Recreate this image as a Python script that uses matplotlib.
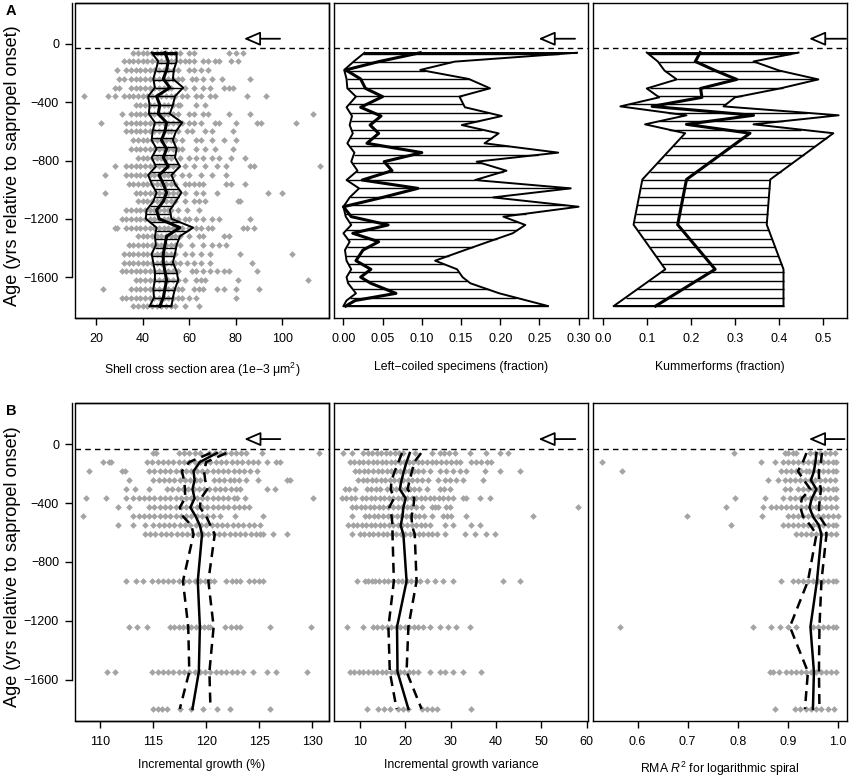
import numpy as np
import matplotlib.pyplot as plt
from matplotlib.patches import Rectangle

plt.rcParams['font.family'] = ['Liberation Sans', 'DejaVu Sans']
plt.rcParams['mathtext.fontset'] = 'custom'
plt.rcParams['mathtext.rm'] = 'Liberation Sans'
plt.rcParams['mathtext.it'] = 'Liberation Sans:italic'

# ---------------- datos: fila A ----------------
edades_A = [-60, -120, -180, -240, -300, -360, -420, -480, -540, -600,
            -660, -720, -780, -840, -900, -960, -1020, -1080, -1140, -1200,
            -1260, -1320, -1380, -1440, -1500, -1560, -1620, -1680, -1740, -1800]

# área de la concha, un individuo por punto
area_pts = [
    [36, 38, 40, 42, 44, 46, 48, 50, 52, 54, 56, 60, 62, 77, 80, 83],
    [32, 34, 36, 38, 40, 42, 44, 46, 48, 50, 52, 54, 56, 58, 60, 62, 66, 68, 71, 73, 78, 81],
    [29, 33, 35, 37, 39, 41, 43, 45, 47, 49, 51, 53, 55, 60, 62, 65, 68],
    [30, 32, 35, 37, 39, 41, 43, 45, 47, 49, 51, 53, 55, 57, 61, 63, 66, 70, 74, 86],
    [28, 30, 35, 37, 39, 41, 43, 45, 47, 49, 51, 52, 58, 62, 66, 69, 75, 77, 79],
    [15, 25, 28, 32, 34, 36, 38, 40, 42, 44, 46, 48, 50, 52, 54, 57, 59, 63, 65, 69, 71, 85, 93],
    [37, 39, 41, 43, 45, 47, 49, 51, 53, 55, 56, 63, 67],
    [31, 35, 37, 39, 41, 43, 45, 47, 49, 51, 53, 55, 60, 62, 66, 68, 77, 86, 113],
    [22, 33, 35, 37, 39, 41, 43, 45, 47, 49, 51, 53, 55, 57, 60, 62, 65, 71, 73, 80, 89, 91, 106],
    [33, 35, 37, 39, 41, 43, 45, 47, 49, 51, 52, 55, 59, 61, 67, 70, 79],
    [36, 38, 40, 42, 44, 46, 48, 50, 52, 54, 57, 63, 65, 70, 75, 80],
    [35, 37, 39, 41, 43, 45, 47, 49, 51, 53, 55, 57, 63, 67, 71, 79],
    [38, 40, 42, 44, 46, 48, 50, 52, 56, 60, 63, 66, 70, 73, 78, 84],
    [28, 33, 35, 37, 39, 41, 43, 45, 47, 49, 51, 53, 55, 58, 62, 67, 72, 76, 86, 88, 116],
    [24, 33, 35, 37, 39, 41, 43, 45, 47, 49, 51, 53, 57, 60, 65, 70, 76],
    [34, 36, 38, 40, 42, 44, 46, 48, 50, 52, 54, 58, 60, 62, 64, 66, 76, 78, 84],
    [24, 37, 39, 41, 43, 45, 47, 49, 51, 53, 55, 58, 63, 66, 72, 94, 100],
    [38, 40, 42, 44, 46, 48, 50, 52, 54, 58, 62, 64, 67, 81, 82],
    [33, 35, 37, 39, 41, 43, 45, 47, 49, 51, 52, 55, 59, 64],
    [31, 33, 35, 37, 39, 41, 43, 45, 47, 49, 51, 53, 55, 58, 60, 63, 66, 70, 73, 86],
    [28, 29, 33, 35, 37, 39, 41, 43, 45, 47, 49, 51, 53, 55, 57, 60, 63, 65, 68, 70, 83, 85, 88],
    [38, 40, 42, 44, 46, 48, 50, 52, 54, 56, 60, 64, 66, 75, 77],
    [34, 36, 38, 40, 42, 44, 46, 48, 50, 52, 54, 56, 61, 66, 70, 73, 76],
    [32, 34, 36, 38, 40, 42, 44, 46, 48, 50, 52, 54, 58, 61, 65, 69, 82, 104],
    [32, 34, 36, 38, 40, 42, 44, 46, 48, 50, 52, 54, 56, 59, 62, 65, 69, 87],
    [31, 33, 35, 37, 39, 41, 43, 45, 47, 49, 51, 53, 55, 61, 63, 66, 69, 72, 75, 77, 89],
    [37, 39, 41, 43, 45, 47, 49, 51, 53, 55, 58, 63, 65, 67, 81, 111],
    [23, 35, 37, 39, 41, 43, 45, 47, 49, 51, 53, 55, 57, 62, 64, 66, 72, 75, 80, 90],
    [31, 33, 35, 37, 39, 41, 43, 45, 47, 49, 51, 53, 55, 57, 60, 63, 80],
    [36, 38, 40, 42, 44, 46, 48, 50, 52, 54, 58, 64],
]
area_inf = [43.9, 46.7, 45.7, 44.6, 45.3, 42.4, 43.0, 42.7, 45.3, 44.3, 43.9, 46.0, 43.9, 45.7, 42.4,
            43.9, 46.0, 44.6, 41.7, 41.4, 46.0, 45.3, 45.7, 43.9, 44.6, 45.3, 45.3, 44.6, 44.9, 43.0]
area_med = [49.6, 51.0, 50.3, 48.9, 51.7, 46.0, 47.4, 46.7, 50.3, 49.6, 48.1, 50.3, 48.9, 51.0, 47.1,
            48.9, 50.3, 48.9, 46.0, 47.1, 56.0, 50.3, 49.6, 48.9, 48.9, 49.6, 50.3, 49.6, 48.9, 47.4]
area_sup = [54.6, 54.6, 53.4, 53.0, 57.4, 53.9, 53.0, 51.7, 57.0, 54.3, 53.0, 54.6, 53.9, 56.0, 52.4,
            53.9, 56.7, 54.3, 51.7, 52.4, 61.7, 56.0, 54.6, 53.9, 53.0, 54.6, 55.3, 53.9, 53.0, 52.4]

# enrollamiento a la izquierda
edades_izq = [-61, -122, -179, -241, -305, -362, -435, -495, -557, -614, -682, -746, -808, -870, -934,
              -991, -1053, -1117, -1185, -1242, -1299, -1357, -1414, -1487, -1546, -1600, -1642, -1711,
              -1760, -1798]
izq_inf = [0.027, 0.013, 0.001, 0.004, 0.005, 0.016, 0.004, 0.011, 0.008, 0.012, 0.005, 0.014, 0.010,
           0.018, 0.004, 0.020, 0.008, 0.000, 0.003, 0.010, 0.000, 0.008, 0.002, 0.004, 0.010, 0.004,
           0.006, 0.016, 0.004, 0.000]
izq_med = [0.098, 0.045, 0.003, 0.022, 0.028, 0.050, 0.022, 0.048, 0.034, 0.045, 0.030, 0.100, 0.052,
           0.062, 0.024, 0.095, 0.050, 0.000, 0.010, 0.057, 0.012, 0.045, 0.025, 0.016, 0.035, 0.022,
           0.035, 0.067, 0.015, 0.003]
izq_sup = [0.298, 0.142, 0.098, 0.160, 0.187, 0.148, 0.155, 0.202, 0.151, 0.198, 0.180, 0.274, 0.170,
           0.208, 0.168, 0.290, 0.191, 0.300, 0.204, 0.232, 0.216, 0.185, 0.155, 0.117, 0.145, 0.152,
           0.162, 0.199, 0.234, 0.261]

# edades de las muestras de la fila B y de Kummerforms
edades_B = [-60, -121, -183, -244, -306, -367, -429, -490, -552, -613, -930, -1240, -1546, -1798]

kum_inf = [0.100, 0.125, 0.140, 0.168, 0.100, 0.128, 0.040, 0.190, 0.096, 0.187, 0.090, 0.070, 0.142, 0.025]
kum_med = [0.221, 0.210, 0.255, 0.304, 0.222, 0.225, 0.112, 0.342, 0.190, 0.334, 0.190, 0.170, 0.255, 0.120]
kum_sup = [0.444, 0.342, 0.400, 0.489, 0.402, 0.300, 0.274, 0.535, 0.342, 0.523, 0.380, 0.372, 0.410, 0.410]

# ---------------- datos: fila B ----------------
crec_pts = [
    [115.0, 115.3, 117.4, 117.9, 118.4, 118.9, 119.4, 120.3, 120.8, 121.3, 121.8, 122.3, 122.8, 123.3, 123.8, 125.3, 130.7],
    [110.2, 110.8, 111.0, 114.4, 114.9, 115.4, 115.9, 116.4, 116.9, 117.4, 117.9, 118.4, 118.9, 119.4, 119.9, 120.4,
     120.9, 121.4, 121.9, 122.4, 122.9, 123.4, 123.9, 124.4, 124.9, 125.7, 126.6, 127.0],
    [108.9, 112.0, 112.3, 114.6, 115.1, 115.6, 116.1, 116.6, 117.1, 117.6, 118.1, 118.6, 119.1, 119.6, 120.1, 120.6,
     121.1, 121.6, 122.1, 122.6, 123.1, 123.6, 124.1, 124.8],
    [112.7, 115.0, 115.5, 116.0, 116.5, 117.0, 117.5, 118.0, 118.5, 119.0, 119.4, 120.7, 121.2, 121.7, 122.2, 122.6,
     123.1, 123.8, 124.9, 127.6, 127.9],
    [112.4, 113.3, 114.6, 116.3, 116.8, 117.3, 117.8, 118.3, 118.8, 119.3, 119.8, 120.3, 120.8, 121.3, 121.8, 122.3,
     122.8, 123.2, 125.7, 126.5],
    [108.6, 110.5, 112.4, 113.1, 113.6, 114.1, 114.6, 115.1, 115.6, 116.1, 116.6, 117.1, 117.6, 118.1, 118.6, 119.1,
     119.6, 120.1, 120.6, 121.1, 121.6, 122.1, 122.6, 122.9, 123.7, 130.1],
    [111.7, 112.7, 114.6, 115.1, 115.6, 116.1, 116.6, 117.1, 117.6, 118.1, 118.6, 119.1, 119.6, 120.1, 120.6, 121.1,
     121.6, 122.1, 122.6, 123.1, 123.6, 124.0],
    [108.4, 113.1, 113.6, 114.1, 114.6, 115.1, 115.6, 116.1, 116.6, 117.1, 117.6, 118.1, 118.6, 119.1, 119.6, 120.1,
     120.6, 121.3, 122.7, 125.4],
    [111.7, 113.1, 114.2, 115.0, 115.5, 116.0, 116.5, 117.0, 117.5, 118.0, 118.5, 119.0, 119.5, 120.0, 120.5, 121.0,
     121.5, 122.0, 122.5, 123.0, 123.5, 124.0, 124.5, 125.1],
    [114.2, 114.7, 115.2, 115.7, 116.2, 116.7, 117.2, 117.7, 118.2, 118.7, 119.2, 119.7, 120.2, 120.7, 121.2, 121.7,
     122.2, 122.7, 123.2, 123.7, 124.2, 124.7, 125.1, 125.4, 126.3, 127.6],
    [112.4, 113.4, 114.0, 114.9, 115.4, 115.9, 116.4, 116.9, 117.4, 117.9, 118.4, 118.9, 119.4, 119.9, 120.4, 120.7,
     121.9, 122.4, 122.8, 123.2, 124.0, 124.5, 125.0, 125.4],
    [112.7, 113.5, 114.4, 116.6, 117.0, 117.4, 117.8, 118.2, 118.6, 119.0, 119.4, 119.8, 120.2, 120.4, 121.8, 122.3,
     122.8, 123.2, 126.0, 129.9],
    [110.6, 111.4, 114.9, 115.4, 115.9, 116.4, 116.9, 117.4, 117.9, 118.4, 118.9, 119.4, 119.9, 120.4, 120.9, 121.4,
     121.9, 122.4, 122.9, 123.5, 124.4, 125.7, 126.6, 129.5],
    [115.0, 115.4, 115.8, 116.3, 117.5, 118.6, 119.7, 121.0, 122.2, 126.0],
]
crec_inf = [120.4, 118.4, 117.7, 117.9, 118.0, 118.0, 117.5, 117.8, 118.6, 118.8, 117.8, 118.3, 118.4, 117.5]
crec_med = [121.0, 119.4, 118.8, 118.9, 118.7, 118.9, 118.5, 119.0, 119.4, 119.6, 119.2, 119.4, 119.3, 118.7]
crec_sup = [121.9, 120.0, 119.8, 119.9, 120.1, 119.5, 119.4, 120.0, 120.4, 120.8, 120.2, 120.7, 120.3, 120.4]

var_pts = [
    [6.3, 8.2, 10.7, 11.7, 12.7, 13.7, 14.7, 15.7, 16.7, 17.7, 18.7, 19.6, 22.1, 25.8, 27.6, 28.6, 29.6, 31.0,
     34.3, 37.9, 40.9, 42.7],
    [7.8, 8.8, 9.8, 10.8, 11.8, 12.8, 13.8, 14.8, 15.8, 16.8, 17.8, 18.8, 19.8, 20.8, 21.8, 22.8, 23.8, 24.8,
     25.8, 26.8, 27.8, 29.1, 30.2, 31.2, 32.1, 34.6, 35.6, 36.6, 38.0, 39.0],
    [8.9, 9.9, 10.9, 11.9, 12.9, 13.9, 14.9, 15.9, 16.9, 17.9, 18.9, 19.9, 20.9, 21.9, 22.9, 23.9, 25.4, 27.6,
     29.1, 30.6, 32.1, 33.5, 37.6, 40.9, 45.3],
    [9.6, 10.6, 11.6, 12.6, 13.6, 14.6, 15.6, 16.6, 17.6, 18.6, 19.6, 20.6, 21.6, 22.6, 23.6, 25.1, 27.3, 28.8,
     29.9, 31.3, 32.8, 37.2],
    [6.7, 7.7, 8.9, 11.5, 12.5, 13.5, 14.5, 15.9, 17.0, 18.0, 19.0, 20.0, 21.0, 22.0, 23.0, 24.7, 27.6, 28.6, 29.9],
    [6.0, 7.0, 8.0, 8.9, 10.4, 11.4, 12.4, 13.4, 14.4, 15.4, 16.4, 17.4, 18.4, 19.4, 20.4, 21.4, 22.4, 23.4,
     24.4, 25.4, 26.4, 27.4, 28.4, 29.4, 30.6, 32.8, 33.5, 36.5, 38.7],
    [8.2, 9.2, 10.2, 11.2, 12.2, 13.2, 14.2, 15.1, 16.3, 17.3, 18.3, 19.3, 20.3, 21.3, 22.3, 23.6, 25.8, 26.6,
     27.3, 29.1, 29.9, 58.2],
    [8.2, 11.1, 12.1, 13.1, 14.1, 15.1, 16.1, 17.1, 18.1, 19.1, 20.1, 21.1, 22.1, 23.1, 24.1, 25.8, 28.4, 29.3,
     30.2, 33.5, 48.2],
    [7.4, 8.4, 9.4, 10.4, 11.4, 12.4, 13.4, 14.4, 15.4, 16.4, 17.4, 18.4, 19.4, 20.4, 21.4, 22.4, 23.4, 24.4,
     25.4, 28.8, 30.6, 34.6, 36.5],
    [8.2, 10.0, 11.0, 12.0, 13.0, 14.0, 15.0, 16.0, 17.0, 18.0, 19.0, 20.0, 21.0, 22.0, 23.0, 24.0, 25.0, 26.0,
     27.0, 28.8, 33.2, 35.4, 37.9, 39.8],
    [9.3, 11.1, 11.8, 12.6, 13.3, 14.3, 15.3, 16.3, 17.3, 18.3, 19.3, 20.3, 21.3, 22.3, 23.3, 24.7, 26.5, 28.4,
     30.6, 41.6, 45.3],
    [7.1, 10.7, 12.9, 13.8, 14.8, 15.9, 16.9, 17.9, 18.9, 19.9, 20.9, 21.9, 22.9, 24.0, 25.4, 27.6, 29.5, 31.3, 34.3],
    [7.8, 8.8, 9.8, 10.8, 11.8, 12.8, 13.8, 14.8, 15.8, 16.8, 17.8, 18.8, 19.8, 20.8, 21.8, 22.9, 25.4, 27.6,
     28.8, 30.6, 32.8, 36.8],
    [11.5, 14.0, 15.3, 16.6, 18.5, 19.6, 20.7, 23.6, 24.7, 25.8, 26.9, 34.6],
]
var_inf = [19.3, 18.5, 17.7, 17.0, 16.8, 17.5, 16.5, 17.0, 17.2, 17.2, 17.5, 16.3, 16.6, 18.1]
var_med = [21.0, 20.3, 19.7, 19.2, 18.8, 20.1, 19.6, 19.4, 19.0, 19.6, 20.3, 18.2, 18.3, 20.7]
var_sup = [23.5, 22.0, 21.5, 21.0, 20.5, 22.0, 21.8, 21.4, 21.5, 22.1, 22.5, 20.7, 20.3, 23.6]

rma_pts = [
    [0.792, 0.894, 0.900, 0.910, 0.917, 0.944, 0.954, 0.964, 0.974, 0.984, 0.994],
    [0.528, 0.847, 0.874, 0.890, 0.900, 0.910, 0.920, 0.930, 0.940, 0.950, 0.960, 0.970, 0.980, 0.990, 0.997],
    [0.568, 0.887, 0.897, 0.907, 0.917, 0.927, 0.937, 0.943, 0.950, 0.960, 0.970, 0.980, 0.990, 0.997],
    [0.860, 0.880, 0.894, 0.904, 0.914, 0.924, 0.934, 0.944, 0.954, 0.964, 0.974, 0.984, 0.994],
    [0.894, 0.904, 0.920, 0.930, 0.940, 0.950, 0.960, 0.970, 0.980, 0.990, 0.997],
    [0.794, 0.854, 0.890, 0.904, 0.914, 0.924, 0.934, 0.944, 0.954, 0.964, 0.974, 0.984, 0.994, 0.997],
    [0.777, 0.850, 0.867, 0.877, 0.887, 0.897, 0.907, 0.917, 0.927, 0.937, 0.947, 0.957, 0.967, 0.977, 0.987, 0.997],
    [0.698, 0.849, 0.900, 0.910, 0.920, 0.930, 0.940, 0.950, 0.960, 0.970, 0.980, 0.990, 1.000],
    [0.787, 0.890, 0.900, 0.910, 0.920, 0.930, 0.940, 0.950, 0.960, 0.970, 0.980, 0.990, 0.997],
    [0.917, 0.927, 0.937, 0.947, 0.957, 0.967, 0.977, 0.987, 0.997],
    [0.886, 0.910, 0.920, 0.930, 0.940, 0.950, 0.960, 0.970, 0.980, 0.990, 0.997],
    [0.565, 0.830, 0.867, 0.884, 0.900, 0.917, 0.950, 0.960, 0.970, 0.980, 0.990, 0.997],
    [0.864, 0.870, 0.882, 0.897, 0.907, 0.917, 0.927, 0.937, 0.947, 0.957, 0.967, 0.977, 0.987, 0.997],
    [0.874, 0.914, 0.924, 0.937, 0.947, 0.957, 0.967, 0.980, 0.993],
]
rma_inf = [0.937, 0.930, 0.920, 0.932, 0.945, 0.928, 0.925, 0.930, 0.945, 0.957, 0.940, 0.904, 0.940, 0.934]
rma_med = [0.957, 0.955, 0.952, 0.946, 0.957, 0.948, 0.943, 0.950, 0.962, 0.967, 0.958, 0.945, 0.952, 0.950]
rma_sup = [0.968, 0.966, 0.962, 0.962, 0.966, 0.964, 0.962, 0.963, 0.975, 0.977, 0.967, 0.963, 0.962, 0.963]

# inicio del sapropel y flecha
inicio = -30
flecha_y = 35

GRIS = '#a4a4a4'
YLIM = (-1880, 280)

W, H = 850, 777
fig = plt.figure(figsize=(W / 100, H / 100), dpi=100)


def ejes(x0, y0, x1, y1):
    return fig.add_axes([x0 / W, 1 - y1 / H, (x1 - x0) / W, (y1 - y0) / H])


def preparar(ax, xlim, xticks, fmt, etiqueta, izquierda, pad):
    ax.set_xlim(*xlim)
    ax.set_ylim(*YLIM)
    ax.set_xticks(xticks)
    ax.set_xticklabels([fmt.format(t) for t in xticks])
    ax.tick_params(axis='x', length=5, width=1, pad=6, labelsize=9)
    ax.set_xlabel(etiqueta, fontsize=8.8, labelpad=pad)
    for s in ax.spines.values():
        s.set_linewidth(1)
    if izquierda:
        ax.set_yticks([0, -400, -800, -1200, -1600])
        ax.tick_params(axis='y', length=5, width=1, pad=4, labelsize=9)
        ax.spines['left'].set_position(('outward', 2.5))
        ax.spines['left'].set_bounds(-1600, YLIM[1])
        ax.add_patch(Rectangle((0, 0), 1, 1, transform=ax.transAxes, fill=False,
                               lw=1, ec='k', clip_on=False, zorder=5))
    else:
        ax.set_yticks([])
    ax.axhline(inicio, color='k', lw=1, ls=(0, (4, 3)), zorder=4)


def flecha(ax, punta, cola):
    ax.annotate('', xy=(punta, flecha_y), xytext=(cola, flecha_y),
                arrowprops=dict(arrowstyle='-|>,head_length=1.0,head_width=0.43',
                                mutation_scale=10, fc='white', ec='k', lw=1.3,
                                shrinkA=0, shrinkB=0), zorder=6)


def puntos(ax, filas, edades):
    for vals, e in zip(filas, edades):
        ax.plot(vals, [e] * len(vals), 'D', ms=3.4, color=GRIS, mec='none', zorder=1)


def banda(ax, edades, inf, sup, med, paso=57.6):
    a = np.asarray(edades, float)[::-1]
    lo = np.asarray(inf, float)[::-1]
    hi = np.asarray(sup, float)[::-1]
    ys = np.arange(a[0], a[-1], paso)
    ax.hlines(ys, np.interp(ys, a, lo), np.interp(ys, a, hi), color='k', lw=1.0, zorder=2)
    ax.plot(inf, edades, 'k', lw=1.4, zorder=3)
    ax.plot(sup, edades, 'k', lw=1.4, zorder=3)
    ax.hlines([edades[0], edades[-1]], [inf[0], inf[-1]], [sup[0], sup[-1]],
              color='k', lw=1.4, zorder=3)
    ax.plot(med, edades, 'k', lw=2.2, zorder=3)


def lineas(ax, edades, inf, sup, med):
    ax.plot(med, edades, 'k', lw=1.8, zorder=3)
    ax.plot(inf, edades, 'k', lw=1.8, ls=(0, (4, 2.5)), zorder=3)
    ax.plot(sup, edades, 'k', lw=1.8, ls=(0, (4, 2.5)), zorder=3)


cols = [(75, 329), (334, 588), (593, 847)]
filaA = (3, 318)
filaB = (403, 721)

# ---- fila A ----
a1 = ejes(cols[0][0], filaA[0], cols[0][1], filaA[1])
preparar(a1, (11, 120), [20, 40, 60, 80, 100], '{:g}',
         'Shell cross section area (1e\u22123 \u03bcm$^2$)', True, 11)
puntos(a1, area_pts, edades_A)
banda(a1, edades_A, area_inf, area_sup, area_med)
flecha(a1, 83.5, 99)

a2 = ejes(cols[1][0], filaA[0], cols[1][1], filaA[1])
preparar(a2, (-0.012, 0.312), [0, 0.05, 0.10, 0.15, 0.20, 0.25, 0.30], '{:.2f}',
         'Left\u2212coiled specimens (fraction)', False, 11)
banda(a2, edades_izq, izq_inf, izq_sup, izq_med)
flecha(a2, 0.249, 0.2955)

a3 = ejes(cols[2][0], filaA[0], cols[2][1], filaA[1])
preparar(a3, (-0.022, 0.554), [0, 0.1, 0.2, 0.3, 0.4, 0.5], '{:.1f}',
         'Kummerforms (fraction)', False, 11)
banda(a3, edades_B, kum_inf, kum_sup, kum_med)
flecha(a3, 0.468, 0.552)

# ---- fila B ----
b1 = ejes(cols[0][0], filaB[0], cols[0][1], filaB[1])
preparar(b1, (107.6, 131.6), [110, 115, 120, 125, 130], '{:g}',
         'Incremental growth (%)', True, 8)
puntos(b1, crec_pts, edades_B)
lineas(b1, edades_B, crec_inf, crec_sup, crec_med)
flecha(b1, 123.6, 127)

b2 = ejes(cols[1][0], filaB[0], cols[1][1], filaB[1])
preparar(b2, (4.3, 60.3), [10, 20, 30, 40, 50, 60], '{:g}',
         'Incremental growth variance', False, 8)
puntos(b2, var_pts, edades_B)
lineas(b2, edades_B, var_inf, var_sup, var_med)
flecha(b2, 49.4, 57.5)

b3 = ejes(cols[2][0], filaB[0], cols[2][1], filaB[1])
preparar(b3, (0.511, 1.018), [0.6, 0.7, 0.8, 0.9, 1.0], '{:.1f}',
         'RMA $R^2$ for logarithmic spiral', False, 8)
puntos(b3, rma_pts, edades_B)
lineas(b3, edades_B, rma_inf, rma_sup, rma_med)
flecha(b3, 0.942, 1.013)

# etiquetas comunes
for (y0, y1), letra in [(filaA, 'A'), (filaB, 'B')]:
    fig.text(13 / W, 1 - ((y0 + y1) / 2 + 5) / H, 'Age (yrs relative to sapropel onset)',
             rotation=90, ha='center', va='center', fontsize=13.1)
    fig.text(6 / W, 1 - (y0 + 8) / H, letra, fontsize=10.5, fontweight='bold',
             ha='left', va='center')

fig.savefig('out.png', dpi=100)
